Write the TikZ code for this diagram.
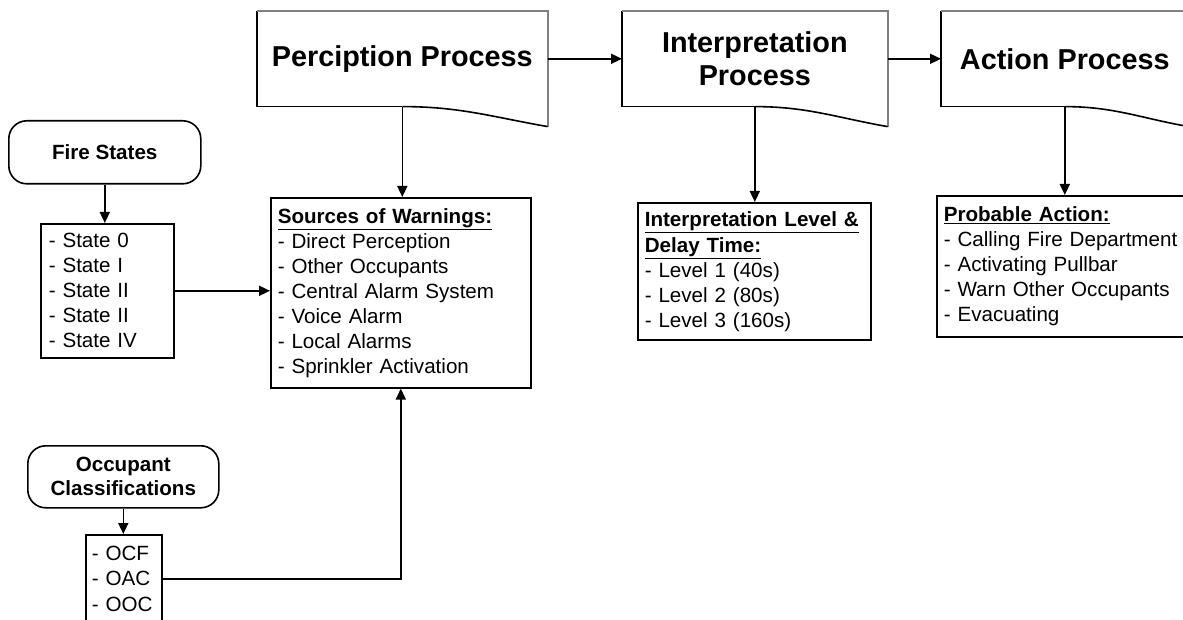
\documentclass[tikz,border=0pt]{standalone}
\usepackage{fontspec}
\setmainfont{Liberation Sans}
\usetikzlibrary{arrows.meta,calc}
\begin{document}
\begin{tikzpicture}[x=1pt,y=-1pt,line width=1.6pt,
  arr/.style={-{Triangle[length=11pt,width=10pt]}},
  title/.style={font=\fontsize{28.8}{33}\selectfont\bfseries,align=center,inner sep=0pt,anchor=north west,minimum height=94pt},
  docline/.style={draw=black,line width=1.6pt},
  docedge/.style={draw=black!50,line width=1.8pt},
  listbox/.style={draw,rectangle,anchor=north west,align=left,font=\fontsize{20.6}{25}\selectfont,inner xsep=7pt,inner ysep=0pt},
  term/.style={draw,rounded corners=18pt,anchor=north west,font=\fontsize{20.6}{24}\selectfont\bfseries,align=center,inner sep=0pt}]
\useasboundingbox (0,0) rectangle (1183,620);
\clip (0,0) rectangle (1183,620);

% process documents
\node[title,minimum width=289pt] (pp) at (257,11) {Perciption Process};
\node[title,minimum width=264pt] (ip) at (622,11) {Interpretation\\Process};
\node[title,minimum width=246pt] (ap) at (941,11) {Action Process};
\foreach \n in {pp,ip,ap}{
  \draw[docline] (\n.south) -- (\n.south west) -- (\n.north west);
  \draw[docedge] (\n.north west) -- (\n.north east) -- ([yshift=-20pt]\n.south east);
  \draw[docline] ([yshift=-20pt]\n.south east) to[out=170,in=0] (\n.south);
}

% boxes
\node[listbox,minimum width=260pt,minimum height=190pt,text width=246pt] (src) at (270,197)
 {\underline{\textbf{Sources of Warnings:}}\\- Direct Perception\\- Other Occupants\\- Central Alarm System\\- Voice Alarm\\- Local Alarms\\- Sprinkler Activation};
\node[listbox,minimum width=233pt,minimum height=137pt,text width=219pt] (ib) at (637,202)
 {\underline{\textbf{Interpretation Level \&}}\\[1pt]\underline{\textbf{Delay Time:}}\\- Level 1 (40s)\\- Level 2 (80s)\\- Level 3 (160s)};
\node[listbox,minimum width=256pt,minimum height=141pt,text width=242pt] (ab) at (936,195)
 {\underline{\textbf{Probable Action:}}\\- Calling Fire Department\\- Activating Pullbar\\- Warn Other Occupants\\- Evacuating};
\node[listbox,minimum width=131pt,minimum height=134pt,text width=117pt,inner xsep=8pt] (st) at (40,223)
 {- State 0\\- State I\\- State II\\- State II\\- State IV};
\node[listbox,minimum width=76pt,minimum height=88pt,text width=64pt,inner xsep=6pt,font=\fontsize{20.6}{25.5}\selectfont] (ocf) at (85,534)
 {- OCF\\- OAC\\- OOC};

% terminals
\node[term,minimum width=192pt,minimum height=63pt] (fs) at (8,120) {Fire States};
\node[term,minimum width=191pt,minimum height=62pt] (oc) at (27,445) {Occupant\\Classifications};

% connectors
\draw[arr] (pp.east) -- (ip.west);
\draw[arr] (ip.east) -- (ap.west);
\draw[arr] (pp.south) -- (pp.south |- src.north);
\draw[arr] (ip.south) -- (ip.south |- ib.north);
\draw[arr] (ap.south) -- (ap.south |- ab.north);
\draw[arr] (fs.south) -- (fs.south |- st.north);
\draw[arr] (st.east) -- (st.east -| src.west);
\draw[arr] (oc.south) -- (oc.south |- ocf.north);
\draw[arr] (ocf.east) -| (src.south);
\end{tikzpicture}
\end{document}
